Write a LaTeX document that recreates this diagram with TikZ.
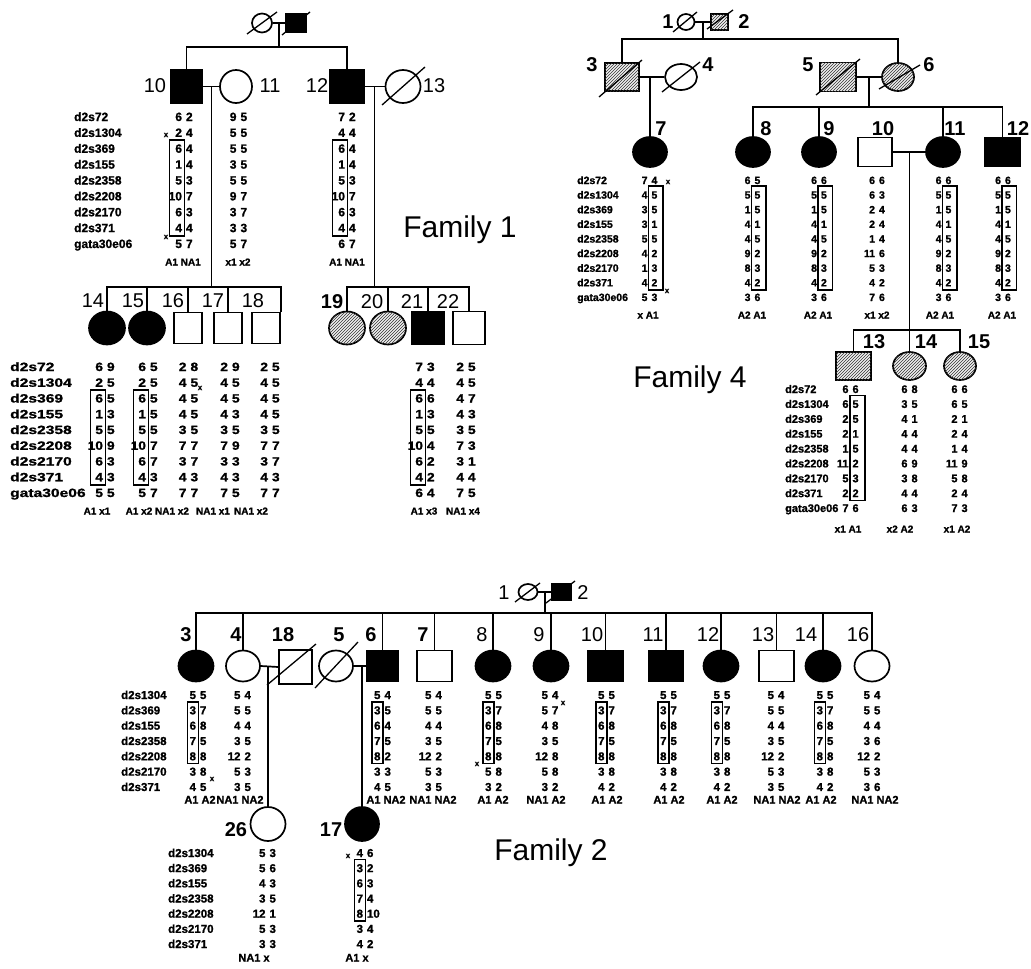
\documentclass[tikz,border=0pt]{standalone}
\usepackage{fontspec}
\usepackage{graphicx}
\setmainfont{Liberation Sans}
\newfontfamily\dfont{Liberation Sans}[BoldFeatures={FakeBold=1.2}]
\usetikzlibrary{shapes.geometric,patterns,calc}
\newcommand\alfont{\dfont\fontsize{12}{12}\selectfont\bfseries}
\newcommand\hpfont{\dfont\fontsize{10}{10}\selectfont\bfseries}
\newcommand\mrk[6]{\foreach \lab [count=\i] in {#6}{\node[al,anchor=west] (#1\i) at ({#2},{#3+(\i-1)*#4}) {\scalebox{#5}[1]{\lab}};}}
\newcommand\gtcol[6]{\foreach \ga/\gb [count=\i] in {#6}{%
  \node[al,anchor=east] (#1l\i) at ({#2-1.8},{#3+(\i-1)*#4}) {\scalebox{#5}[1]{\ga}};
  \node[al,anchor=west] (#1r\i) at ({#2+1.8},{#3+(\i-1)*#4}) {\scalebox{#5}[1]{\gb}};}}
\tikzset{
 pl/.style={line width=1.7pt},
 tl/.style={line width=1pt},
 sl/.style={line width=1.3pt},
 bx/.style={line width=1.2pt},
 sym/.style={draw,line width=1.7pt,inner sep=0pt,fill=white},
 sq/.style={sym,rectangle},
 ci/.style={sym,ellipse},
 aff/.style={fill=black},
 hat/.style={fill=gray!12,postaction={pattern=north east lines,pattern color=black!80}},
 al/.style={font=\alfont,inner sep=0pt,text height=8pt,text depth=0pt},
 hp/.style={font=\hpfont,inner sep=0pt,text height=7pt,text depth=0pt},
 idn/.style={font=\fontsize{20}{20}\selectfont,inner sep=0pt},
 idb/.style={font=\fontsize{20}{20}\selectfont\bfseries,inner sep=0pt},
 fam/.style={font=\fontsize{30}{30}\selectfont,inner sep=0pt},
 xm/.style={font=\dfont\fontsize{8}{8}\selectfont\bfseries,inner sep=0pt},
}
\begin{document}
\begin{tikzpicture}[x=1pt,y=-1pt]
\useasboundingbox (0,0) rectangle (1031,969);
%================ FAMILY 1 ================
\node[ci,minimum width=20pt,minimum height=19pt] (f1a) at (262,23) {};
\node[sq,aff,minimum width=20pt,minimum height=18pt] (f1b) at (296,23) {};
\node[sq,aff,minimum width=31pt,minimum height=33pt] (f1p10) at (186.5,86.5) {};
\node[ci,minimum width=32pt,minimum height=33pt] (f1p11) at (236,86.5) {};
\node[sq,aff,minimum width=34pt,minimum height=33pt] (f1p12) at (347,86.5) {};
\node[ci,minimum width=35pt,minimum height=33pt] (f1p13) at (403,86.5) {};
\node[ci,aff,minimum width=36pt,minimum height=33pt] (f1p14) at (107,328) {};
\node[ci,aff,minimum width=36pt,minimum height=33pt] (f1p15) at (147,328) {};
\node[sq,minimum width=28pt,minimum height=31pt] (f1p16) at (188,328) {};
\node[sq,minimum width=28pt,minimum height=31pt] (f1p17) at (228,328) {};
\node[sq,minimum width=28pt,minimum height=31pt] (f1p18) at (266,328) {};
\node[ci,hat,minimum width=36pt,minimum height=33pt] (f1p19) at (347,328) {};
\node[ci,hat,minimum width=36pt,minimum height=33pt] (f1p20) at (388,328) {};
\node[sq,aff,minimum width=32pt,minimum height=33pt] (f1p21) at (428,328) {};
\node[sq,minimum width=32pt,minimum height=33pt] (f1p22) at (469,328) {};
\draw[sl] (247,34) -- (277,12);
\draw[sl] (282,35) -- (310,12);
\draw[sl] (382,105) -- (425,67);
\coordinate (f1s0) at (0,47);
\coordinate (f1s1) at (0,287);
\draw[pl] (f1a.east) -- (f1b.west);
\coordinate (f1m0) at ($(f1a.east)!0.5!(f1b.west)$);
\draw[pl] (f1m0) -- (f1m0 |- f1s0);
\draw[pl] (f1p10.north) -- (f1p10.north |- f1s0) -- (f1p12.north |- f1s0) -- (f1p12.north);
\draw[pl] (f1p10.east) -- (f1p11.west);
\coordinate (f1m1) at ($(f1p10.east)!0.5!(f1p11.west)$);
\draw[tl] (f1m1) -- (f1m1 |- f1s1);
\draw[pl] (f1p12.east) -- (f1p13.west);
\coordinate (f1m2) at ($(f1p12.east)!0.5!(f1p13.west)$);
\draw[tl] (f1m2) -- (f1m2 |- f1s1);
\draw[pl] (f1p14.north) -- (f1p14.north |- f1s1) -- (f1p18.north east |- f1s1) -- (f1p18.north east);
\foreach \n in {15,16,17} \draw[pl] (f1p\n.north) -- (f1p\n.north |- f1s1);
\draw[pl] (f1p19.north) -- (f1p19.north |- f1s1) -- (f1p22.north |- f1s1) -- (f1p22.north);
\foreach \n in {20,21} \draw[pl] (f1p\n.north) -- (f1p\n.north |- f1s1);
\node[idn] (f1i10) at (155,86) {10};
\node[idn] (f1i11) at (270,86) {11};
\node[idn] (f1i12) at (317,86) {12};
\node[idn] (f1i13) at (434,86) {13};
\node[idn] (f1i14) at (93,301) {14};
\node[idn] (f1i15) at (133,301) {15};
\node[idn] (f1i16) at (173,301) {16};
\node[idn] (f1i17) at (213,301) {17};
\node[idn] (f1i18) at (253,301) {18};
\node[idb] (f1i19) at (332,302) {19};
\node[idn] (f1i20) at (372,302) {20};
\node[idn] (f1i21) at (412,302) {21};
\node[idn] (f1i22) at (448,302) {22};
\mrk{f1tm}{74}{117}{15.875}{1}{d2s72,d2s1304,d2s369,d2s155,d2s2358,d2s2208,d2s2170,d2s371,gata30e06}
\gtcol{f1t10}{184}{117}{15.875}{1}{6/2,2/4,6/4,1/4,5/3,10/7,6/3,4/4,5/7}
\gtcol{f1t11}{238.5}{117}{15.875}{1}{9/5,5/5,5/5,3/5,5/5,9/7,3/7,3/3,5/7}
\gtcol{f1t12}{347}{117}{15.875}{1}{7/2,4/4,6/4,1/4,5/3,10/7,6/3,4/4,6/7}
\draw[bx] (169.5,140) rectangle (184.5,236);
\draw[bx] (332.5,140) rectangle (347.5,236);
\node[xm] (f1x1) at (166,135) {x};
\node[xm] (f1x2) at (166,237) {x};
\node[hp] (f1h10) at (183,262) {A1 NA1};
\node[hp] (f1h11) at (238,262) {x1 x2};
\node[hp] (f1h12) at (347,262) {A1 NA1};
\mrk{f1cm}{10}{367}{15.75}{1.3}{d2s72,d2s1304,d2s369,d2s155,d2s2358,d2s2208,d2s2170,d2s371,gata30e06}
\gtcol{f1c14}{105}{367}{15.75}{1.15}{6/9,2/5,6/5,1/3,5/5,10/9,6/3,4/3,5/5}
\gtcol{f1c15}{148}{367}{15.75}{1.15}{6/5,2/5,6/5,1/5,5/5,10/7,6/7,4/3,5/7}
\gtcol{f1c16}{188.5}{367}{15.75}{1.15}{2/8,4/5,4/5,4/5,3/5,7/7,3/7,4/3,7/7}
\gtcol{f1c17}{230}{367}{15.75}{1.15}{2/9,4/5,4/5,4/3,3/5,7/9,3/3,4/3,7/5}
\gtcol{f1c18}{270}{367}{15.75}{1.15}{2/5,4/5,4/5,4/5,3/5,7/7,3/7,4/3,7/7}
\gtcol{f1c21}{425}{367}{15.75}{1.15}{7/3,4/4,6/6,1/3,5/5,10/4,6/2,4/2,6/4}
\gtcol{f1c22}{466}{367}{15.75}{1.15}{2/5,4/5,4/7,4/3,3/5,7/3,3/1,4/4,7/5}
\draw[bx] (90.5,390) rectangle (105.5,485);
\draw[bx] (133.5,390) rectangle (148.5,485);
\draw[bx] (410.5,390) rectangle (425.5,485);
\node[xm] (f1x3) at (200,388) {x};
\node[hp] (f1h14) at (97,511) {A1 x1};
\node[hp] (f1h15) at (139,511) {A1 x2};
\node[hp] (f1h16) at (172,511) {NA1 x2};
\node[hp] (f1h17) at (213,511) {NA1 x1};
\node[hp] (f1h18) at (251,511) {NA1 x2};
\node[hp] (f1h21) at (424,511) {A1 x3};
\node[hp] (f1h22) at (463,511) {NA1 x4};
\node[fam] (fam1) at (460,230) {Family 1};
%================ FAMILY 4 ================
\node[ci,minimum width=17pt,minimum height=16pt] (f4p1) at (686,22) {};
\node[sq,hat,minimum width=17pt,minimum height=16pt] (f4p2) at (719.5,22) {};
\node[sq,hat,minimum width=34pt,minimum height=28pt] (f4p3) at (622,77) {};
\node[ci,minimum width=32pt,minimum height=26pt] (f4p4) at (681,77) {};
\node[sq,hat,minimum width=36pt,minimum height=29pt] (f4p5) at (838,77) {};
\node[ci,hat,minimum width=32pt,minimum height=28pt] (f4p6) at (898,77) {};
\node[ci,aff,minimum width=34pt,minimum height=30pt] (f4p7) at (650,152) {};
\node[ci,aff,minimum width=34pt,minimum height=30pt] (f4p8) at (753,152) {};
\node[ci,aff,minimum width=34pt,minimum height=30pt] (f4p9) at (819,152) {};
\node[sq,minimum width=34pt,minimum height=29pt] (f4p10) at (875,152) {};
\node[ci,aff,minimum width=34pt,minimum height=30pt] (f4p11) at (943,152) {};
\node[sq,aff,minimum width=35pt,minimum height=29pt] (f4p12) at (1002.5,152) {};
\node[sq,hat,minimum width=35pt,minimum height=28pt] (f4p13) at (853.5,366) {};
\node[ci,hat,minimum width=33pt,minimum height=28pt] (f4p14) at (909.5,366) {};
\node[ci,hat,minimum width=32pt,minimum height=28pt] (f4p15) at (960,366) {};
\draw[sl] (673,32) -- (697,12);
\draw[sl] (707,29) -- (733,10);
\draw[sl] (599,97) -- (642,60);
\draw[sl] (662,92) -- (700,62);
\draw[sl] (816,95) -- (860,59);
\draw[sl] (879,89) -- (920,65);
\coordinate (f4s0) at (0,39);
\coordinate (f4s1) at (0,107);
\coordinate (f4s2) at (0,330);
\draw[pl] (f4p1.east) -- (f4p2.west);
\coordinate (f4m0) at ($(f4p1.east)!0.5!(f4p2.west)$);
\draw[pl] (f4m0) -- (f4m0 |- f4s0);
\draw[pl] (f4p3.north) -- (f4p3.north |- f4s0) -- (f4p6.north |- f4s0) -- (f4p6.north);
\draw[pl] (f4p3.east) -- (f4p4.west);
\draw[pl] (f4p7.north) -- (f4p7.north |- f4p3.east);
\draw[pl] (f4p5.east) -- (f4p6.west);
\coordinate (f4m2) at ($(f4p5.east)!0.5!(f4p6.west)$);
\draw[pl] (f4m2) -- (f4m2 |- f4s1);
\draw[pl] (f4p8.north) -- (f4p8.north |- f4s1) -- (f4p12.north |- f4s1) -- (f4p12.north);
\foreach \n in {9,11} \draw[pl] (f4p\n.north) -- (f4p\n.north |- f4s1);
\draw[pl] (f4p10.east) -- (f4p11.west);
\draw[pl] (f4p14.north |- f4p10.east) -- (f4p14.north |- f4s2);
\draw[pl] (f4p13.north) -- (f4p13.north |- f4s2) -- (f4p15.north |- f4s2) -- (f4p15.north);
\draw[pl] (f4p14.north) -- (f4p14.north |- f4s2);
\node[idb] (f4i1) at (668,22) {1};
\node[idb] (f4i2) at (744,22) {2};
\node[idb] (f4i3) at (592,65) {3};
\node[idb] (f4i4) at (708,65) {4};
\node[idb] (f4i5) at (808,65) {5};
\node[idb] (f4i6) at (929,65) {6};
\node[idb] (f4i7) at (661,129) {7};
\node[idb] (f4i8) at (766,129) {8};
\node[idb] (f4i9) at (829,129) {9};
\node[idb] (f4i10) at (883,129) {10};
\node[idb] (f4i11) at (955,129) {11};
\node[idb] (f4i12) at (1018,129) {12};
\node[idb] (f4i13) at (874,342) {13};
\node[idb] (f4i14) at (926,342) {14};
\node[idb] (f4i15) at (979,342) {15};
\renewcommand\alfont{\dfont\fontsize{10.5}{10.5}\selectfont\bfseries}
\mrk{f4tm}{577}{180}{14.625}{1}{d2s72,d2s1304,d2s369,d2s155,d2s2358,d2s2208,d2s2170,d2s371,gata30e06}
\gtcol{f4t7}{649.5}{180}{14.625}{1}{7/4,4/5,3/5,3/1,5/5,4/2,1/3,4/2,5/3}
\gtcol{f4t8}{752.5}{180}{14.625}{1}{6/5,5/5,1/5,4/1,4/5,9/2,8/3,4/2,3/6}
\gtcol{f4t9}{819}{180}{14.625}{1}{6/6,5/5,1/5,4/1,4/5,9/2,8/3,4/2,3/6}
\gtcol{f4t10}{877}{180}{14.625}{1}{6/6,6/3,2/4,2/4,1/4,11/6,5/3,4/2,7/6}
\gtcol{f4t11}{943.5}{180}{14.625}{1}{6/6,5/5,1/5,4/1,4/5,9/2,8/3,4/2,3/6}
\gtcol{f4t12}{1003}{180}{14.625}{1}{6/6,5/5,1/5,4/1,4/5,9/2,8/3,4/2,3/6}
\draw[bx] (648.5,186) rectangle (663,290);
\draw[bx] (751.5,186) rectangle (766,290);
\draw[bx] (818,186) rectangle (832.5,290);
\draw[bx] (942.5,186) rectangle (957,290);
\draw[bx] (1002,186) rectangle (1016.5,290);
\node[xm] (f4x1) at (668,182) {x};
\node[xm] (f4x2) at (667,291) {x};
\node[hp] (f4h7) at (648,315) {x A1};
\node[hp] (f4h8) at (752,315) {A2 A1};
\node[hp] (f4h9) at (818,315) {A2 A1};
\node[hp] (f4h10) at (877,315) {x1 x2};
\node[hp] (f4h11) at (940,315) {A2 A1};
\node[hp] (f4h12) at (1002,315) {A2 A1};
\renewcommand\alfont{\dfont\fontsize{11}{11}\selectfont\bfseries}
\mrk{f4cm}{785}{389}{14.875}{1}{d2s72,d2s1304,d2s369,d2s155,d2s2358,d2s2208,d2s2170,d2s371,gata30e06}
\gtcol{f4c13}{850.5}{389}{14.875}{1}{6/6,6/5,2/5,2/1,1/5,11/2,5/3,2/2,7/6}
\gtcol{f4c14}{909.5}{389}{14.875}{1}{6/8,3/5,4/1,4/4,4/4,6/9,3/8,4/4,6/3}
\gtcol{f4c15}{959.5}{389}{14.875}{1}{6/6,6/5,2/1,2/4,1/4,11/9,5/8,2/4,7/3}
\draw[bx] (850,395.5) rectangle (865,500.6);
\node[hp] (f4h13) at (848,529) {x1 A1};
\node[hp] (f4h14) at (900,529) {x2 A2};
\node[hp] (f4h15) at (957,529) {x1 A2};
\node[fam] (fam4) at (690,380) {Family 4};
%================ FAMILY 2 ================
\node[ci,minimum width=19pt,minimum height=16pt] (f2p1) at (528,592) {};
\node[sq,aff,minimum width=19pt,minimum height=17pt] (f2p2) at (561.5,592) {};
\node[ci,aff,minimum width=35pt,minimum height=31pt] (f2p3) at (196,666) {};
\node[ci,minimum width=34pt,minimum height=31pt] (f2p4) at (243,666) {};
\node[sq,minimum width=33pt,minimum height=34pt] (f2p18) at (295.5,667) {};
\node[ci,minimum width=34pt,minimum height=31pt] (f2p5) at (336,666) {};
\node[sq,aff,minimum width=31pt,minimum height=31pt] (f2p6) at (382.5,666) {};
\node[sq,minimum width=35pt,minimum height=31pt] (f2p7) at (434.5,666) {};
\node[ci,aff,minimum width=35pt,minimum height=31pt] (f2p8) at (493,666) {};
\node[ci,aff,minimum width=35pt,minimum height=31pt] (f2p9) at (551,666) {};
\node[sq,aff,minimum width=35pt,minimum height=31pt] (f2p10) at (605.5,666) {};
\node[sq,aff,minimum width=34pt,minimum height=31pt] (f2p11) at (666,666) {};
\node[ci,aff,minimum width=35pt,minimum height=31pt] (f2p12) at (721,666) {};
\node[sq,minimum width=35pt,minimum height=31pt] (f2p13) at (776.5,666) {};
\node[ci,aff,minimum width=35pt,minimum height=31pt] (f2p14) at (823,666) {};
\node[ci,minimum width=35pt,minimum height=31pt] (f2p16) at (872,666) {};
\node[ci,minimum width=35pt,minimum height=34pt] (f2p26) at (268,824) {};
\node[ci,aff,minimum width=34pt,minimum height=34pt] (f2p17) at (362,824) {};
\draw[sl] (515,602) -- (540,583);
\draw[sl] (546,603) -- (575,581);
\draw[sl] (267,685) -- (316,644);
\draw[sl] (315,688) -- (358,642);
\coordinate (f2s0) at (0,613);
\draw[pl] (f2p1.east) -- (f2p2.west);
\coordinate (f2m0) at ($(f2p1.east)!0.5!(f2p2.west)$);
\draw[pl] (f2m0) -- (f2m0 |- f2s0);
\draw[pl] (f2p3.north) -- (f2p3.north |- f2s0) -- (f2p16.north |- f2s0) -- (f2p16.north);
\foreach \n in {4,6,7,8,9,10,11,12,13,14} \draw[pl] (f2p\n.north) -- (f2p\n.north |- f2s0);
\draw[pl] (f2p4.east) -- (f2p18.west);
\draw[pl] (f2p26.north) -- (f2p26.north |- f2p4.east);
\draw[pl] (f2p5.east) -- (f2p6.west);
\draw[pl] (f2p17.north) -- (f2p17.north |- f2p5.east);
\node[idn] (f2i1) at (504,593) {1};
\node[idn] (f2i2) at (583,593) {2};
\node[idb] (f2i3) at (186,635) {3};
\node[idb] (f2i4) at (236,635) {4};
\node[idb] (f2i18) at (283,635) {18};
\node[idb] (f2i5) at (339,635) {5};
\node[idb] (f2i6) at (371,635) {6};
\node[idb] (f2i7) at (423,635) {7};
\node[idn] (f2i8) at (482,635) {8};
\node[idn] (f2i9) at (539,635) {9};
\node[idn] (f2i10) at (592,635) {10};
\node[idn] (f2i11) at (653,635) {11};
\node[idn] (f2i12) at (708,635) {12};
\node[idn] (f2i13) at (763,635) {13};
\node[idn] (f2i14) at (806,635) {14};
\node[idn] (f2i16) at (858,635) {16};
\node[idb] (f2i26) at (236,830) {26};
\node[idb] (f2i17) at (331,830) {17};
\renewcommand\alfont{\dfont\fontsize{11.5}{11.5}\selectfont\bfseries}
\renewcommand\hpfont{\dfont\fontsize{11}{11}\selectfont\bfseries}
\mrk{f2am}{121}{695}{15.33}{1}{d2s1304,d2s369,d2s155,d2s2358,d2s2208,d2s2170,d2s371}
\gtcol{f2a3}{198}{695}{15.33}{1}{5/5,3/7,6/8,7/5,8/8,3/8,4/5}
\gtcol{f2a4}{242.5}{695}{15.33}{1}{5/4,5/5,4/4,3/5,12/2,5/3,3/5}
\gtcol{f2a6}{382.5}{695}{15.33}{1}{5/4,3/5,6/4,7/5,8/2,3/3,4/5}
\gtcol{f2a7}{433.5}{695}{15.33}{1}{5/4,5/5,4/4,3/5,12/2,5/3,3/5}
\gtcol{f2a8}{493.5}{695}{15.33}{1}{5/5,3/7,6/8,7/5,8/8,5/8,3/2}
\gtcol{f2a9}{550}{695}{15.33}{1}{5/4,5/7,4/8,3/5,12/8,5/8,3/2}
\gtcol{f2a10}{606.5}{695}{15.33}{1}{5/5,3/7,6/8,7/5,8/8,3/8,4/2}
\gtcol{f2a11}{668.5}{695}{15.33}{1}{5/5,3/7,6/8,7/5,8/8,3/8,4/2}
\gtcol{f2a12}{722}{695}{15.33}{1}{5/5,3/7,6/8,7/5,8/8,3/8,4/2}
\gtcol{f2a13}{776}{695}{15.33}{1}{5/4,5/5,4/4,3/5,12/2,5/3,3/5}
\gtcol{f2a14}{825}{695}{15.33}{1}{5/5,3/7,6/8,7/5,8/8,3/8,4/2}
\gtcol{f2a16}{872}{695}{15.33}{1}{5/4,5/5,4/4,3/6,12/2,5/3,3/6}
\draw[bx] (187.5,702) rectangle (198.5,763.5);
\draw[bx] (372,702) rectangle (383,763.5);
\draw[bx] (483,702) rectangle (494,763.5);
\draw[bx] (596,702) rectangle (607,763.5);
\draw[bx] (658,702) rectangle (669,763.5);
\draw[bx] (711.5,702) rectangle (722.5,763.5);
\draw[bx] (814.5,702) rectangle (825.5,763.5);
\node[xm] (f2x1) at (212,779) {x};
\node[xm] (f2x2) at (477,764) {x};
\node[xm] (f2x3) at (563,703) {x};
\node[hp] (f2h3) at (200,800) {A1 A2};
\node[hp] (f2h4) at (240,800) {NA1 NA2};
\node[hp] (f2h6) at (386,800) {A1 NA2};
\node[hp] (f2h7) at (433,800) {NA1 NA2};
\node[hp] (f2h8) at (493,800) {A1 A2};
\node[hp] (f2h9) at (546,800) {NA1 A2};
\node[hp] (f2h10) at (607,800) {A1 A2};
\node[hp] (f2h11) at (669,800) {A1 A2};
\node[hp] (f2h12) at (722,800) {A1 A2};
\node[hp] (f2h13) at (777,800) {NA1 NA2};
\node[hp] (f2h14) at (821,800) {A1 A2};
\node[hp] (f2h16) at (875,800) {NA1 NA2};
\mrk{f2bm}{168}{853}{15.17}{1}{d2s1304,d2s369,d2s155,d2s2358,d2s2208,d2s2170,d2s371}
\gtcol{f2b26}{267.5}{853}{15.17}{1}{5/3,5/6,4/3,3/5,12/1,5/3,3/3}
\gtcol{f2b17}{365}{853}{15.17}{1}{4/6,3/2,6/3,7/4,8/10,3/4,4/2}
\draw[bx] (354.5,859.7) rectangle (365.5,921);
\node[xm] (f2x4) at (348,856) {x};
\node[hp] (f2h26) at (254,958) {NA1 x};
\node[hp] (f2h17) at (357,958) {A1 x};
\node[fam] (fam2) at (551,853) {Family 2};
\end{tikzpicture}
\end{document}
